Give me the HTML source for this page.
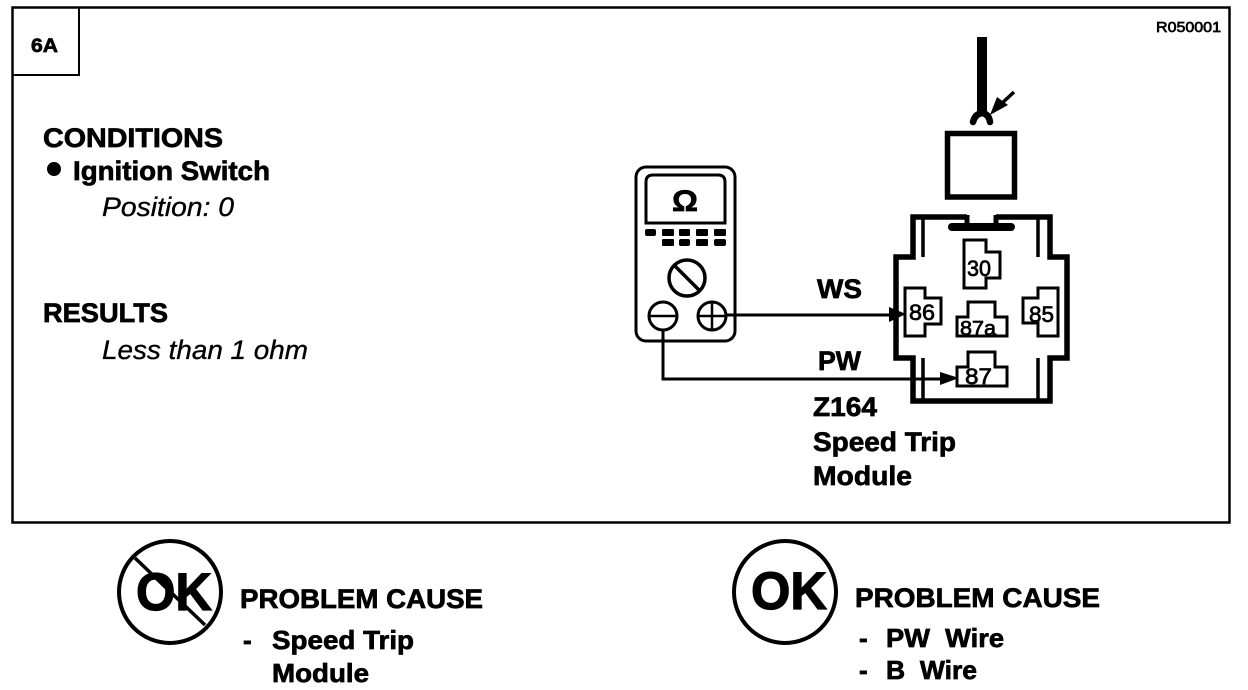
<!DOCTYPE html>
<html><head><meta charset="utf-8"><style>
html,body{margin:0;padding:0;background:#fff}
svg{display:block}
text{font-family:"Liberation Sans",sans-serif;fill:#000}
.b{font-weight:bold;stroke:#000;stroke-width:.7}
.i{font-style:italic;stroke:#000;stroke-width:.35}
.t{font-weight:normal;stroke:#000;stroke-width:.7}
</style></head><body>
<svg width="1248" height="690" viewBox="0 0 1248 690" xmlns="http://www.w3.org/2000/svg">
<rect width="1248" height="690" fill="#fff"/>
<g fill="none" stroke="#000">
<rect x="12.5" y="7.5" width="1217" height="515" stroke-width="2.5"/>
<path d="M79 8V75H12" stroke-width="2"/>
<!-- meter -->
<rect x="636" y="167" width="99" height="174" rx="10" stroke-width="3"/>
<path d="M646 223V182Q646 175 653 175H718Q725 175 725 182V223Z" stroke-width="3"/>
<circle cx="687" cy="278" r="18" stroke-width="3.500"/>
<path d="M674 265L700 291" stroke-width="3.500"/>
<circle cx="663" cy="316" r="14" stroke-width="3"/>
<path d="M650 316H676" stroke-width="2.500"/>
<circle cx="712" cy="316" r="14" stroke-width="3"/>
<path d="M698 316H726M712 302V330" stroke-width="2.500"/>
<!-- wires -->
<path d="M726 315H895" stroke-width="3"/>
<path d="M663 330V379H945" stroke-width="3"/>
<!-- top terminal -->
<path d="M982 37V114" stroke-width="10"/>
<path d="M973 122Q975 114 982 113Q989 114 990 122" stroke-width="6.500" stroke-linecap="round"/>
<path d="M1014 92L1000 105" stroke-width="3.500"/>
<rect x="947.500" y="133.500" width="67" height="63.500" stroke-width="5.500"/>
<!-- relay -->
<path d="M967 217H913V257H896V358H913V401H1050V358H1067V257H1050V217H996" stroke-width="5.500"/>
<path d="M967 215V225M996 215V225" stroke-width="5"/>
<path d="M952 227H1011" stroke-width="8" stroke-linecap="round"/>
<path d="M923 219V257M1038 219V257M923 358V400M1038 358V400" stroke-width="3.500"/>
<g stroke-width="3">
<path d="M964 240H986V252H1000V278H986V288H964Z"/>
<path d="M905 288H925V298H941V324H925V336H905Z"/>
<path d="M1058 288H1038V298H1023V323H1038V336H1058Z"/>
<path d="M968 302H995V317H1007V336H957V317H968Z"/>
<path d="M968 352H995V367H1007V386H957V367H968Z"/>
</g>
<!-- OK -->
<circle cx="170" cy="592" r="51" stroke-width="4"/>
<path d="M135 558L205 625" stroke-width="3.500"/>
<circle cx="785" cy="592" r="51" stroke-width="4"/>
</g>
<g fill="#000" stroke="none">
<path d="M990 115L997 97L1008 105Z"/>
<path d="M889 307L906 314L889 322Z"/>
<path d="M940 372L959 378L940 385Z"/>
<rect x="645" y="229" width="11" height="7" rx="2"/>
<rect x="662" y="229" width="12" height="7" rx="1"/>
<rect x="679" y="229" width="11" height="7" rx="1"/>
<rect x="696" y="229" width="12" height="7" rx="1"/>
<rect x="714" y="229" width="12" height="7" rx="1"/>
<rect x="662" y="239" width="12" height="7" rx="1"/>
<rect x="679" y="239" width="11" height="7" rx="2"/>
<rect x="696" y="239" width="12" height="7" rx="1"/>
<rect x="714" y="239" width="12" height="7" rx="2"/>
<circle cx="54" cy="169" r="7"/>
</g>
<text class="b" x="31" y="52" font-size="19" textLength="27" lengthAdjust="spacingAndGlyphs">6A</text>
<text x="1156" y="32" font-size="15" class="t" textLength="65" lengthAdjust="spacingAndGlyphs">R050001</text>
<text class="b" x="43" y="147" font-size="27" textLength="180" lengthAdjust="spacingAndGlyphs">CONDITIONS</text>
<text class="b" x="73" y="180" font-size="27" textLength="197" lengthAdjust="spacingAndGlyphs">Ignition Switch</text>
<text class="i" x="102" y="216" font-size="27" textLength="132" lengthAdjust="spacingAndGlyphs">Position: 0</text>
<text class="b" x="43" y="322" font-size="27" textLength="125" lengthAdjust="spacingAndGlyphs">RESULTS</text>
<text class="i" x="102" y="359" font-size="27" textLength="206" lengthAdjust="spacingAndGlyphs">Less than 1 ohm</text>
<text class="b" x="672" y="211" font-size="30" textLength="26" lengthAdjust="spacingAndGlyphs">Ω</text>
<text class="b" x="817" y="298" font-size="27" textLength="45" lengthAdjust="spacingAndGlyphs">WS</text>
<text class="b" x="818" y="370" font-size="27" textLength="43" lengthAdjust="spacingAndGlyphs">PW</text>
<text class="b" x="813" y="416" font-size="27" textLength="64" lengthAdjust="spacingAndGlyphs">Z164</text>
<text class="b" x="813" y="451" font-size="27" textLength="143" lengthAdjust="spacingAndGlyphs">Speed Trip</text>
<text class="b" x="813" y="485" font-size="27" textLength="99" lengthAdjust="spacingAndGlyphs">Module</text>
<text class="t" x="967" y="276" font-size="22" textLength="24" lengthAdjust="spacingAndGlyphs">30</text>
<text class="t" x="909" y="320" font-size="22" textLength="26" lengthAdjust="spacingAndGlyphs">86</text>
<text class="t" x="1029" y="322" font-size="22" textLength="25" lengthAdjust="spacingAndGlyphs">85</text>
<text class="t" x="960" y="335" font-size="20" textLength="36" lengthAdjust="spacingAndGlyphs">87a</text>
<text class="t" x="965" y="384" font-size="22" textLength="27" lengthAdjust="spacingAndGlyphs">87</text>
<text class="b" style="stroke-width:1.2" x="136" y="610" font-size="53" textLength="76" lengthAdjust="spacingAndGlyphs">OK</text>
<text class="b" x="240" y="608" font-size="27" textLength="243" lengthAdjust="spacingAndGlyphs">PROBLEM CAUSE</text>
<text class="b" x="243" y="649" font-size="26">-</text>
<text class="b" x="272" y="649" font-size="26" textLength="142" lengthAdjust="spacingAndGlyphs">Speed Trip</text>
<text class="b" x="272" y="682" font-size="26" textLength="97" lengthAdjust="spacingAndGlyphs">Module</text>
<text class="b" style="stroke-width:1.2" x="751" y="609" font-size="53" textLength="76" lengthAdjust="spacingAndGlyphs">OK</text>
<text class="b" x="855" y="607" font-size="27" textLength="245" lengthAdjust="spacingAndGlyphs">PROBLEM CAUSE</text>
<text class="b" x="859" y="647" font-size="26">-</text>
<text class="b" x="886" y="647" font-size="26" textLength="118" lengthAdjust="spacingAndGlyphs" xml:space="preserve">PW  Wire</text>
<text class="b" x="859" y="679" font-size="26">-</text>
<text class="b" x="886" y="679" font-size="26" textLength="91" lengthAdjust="spacingAndGlyphs" xml:space="preserve">B  Wire</text>
</svg>
</body></html>
